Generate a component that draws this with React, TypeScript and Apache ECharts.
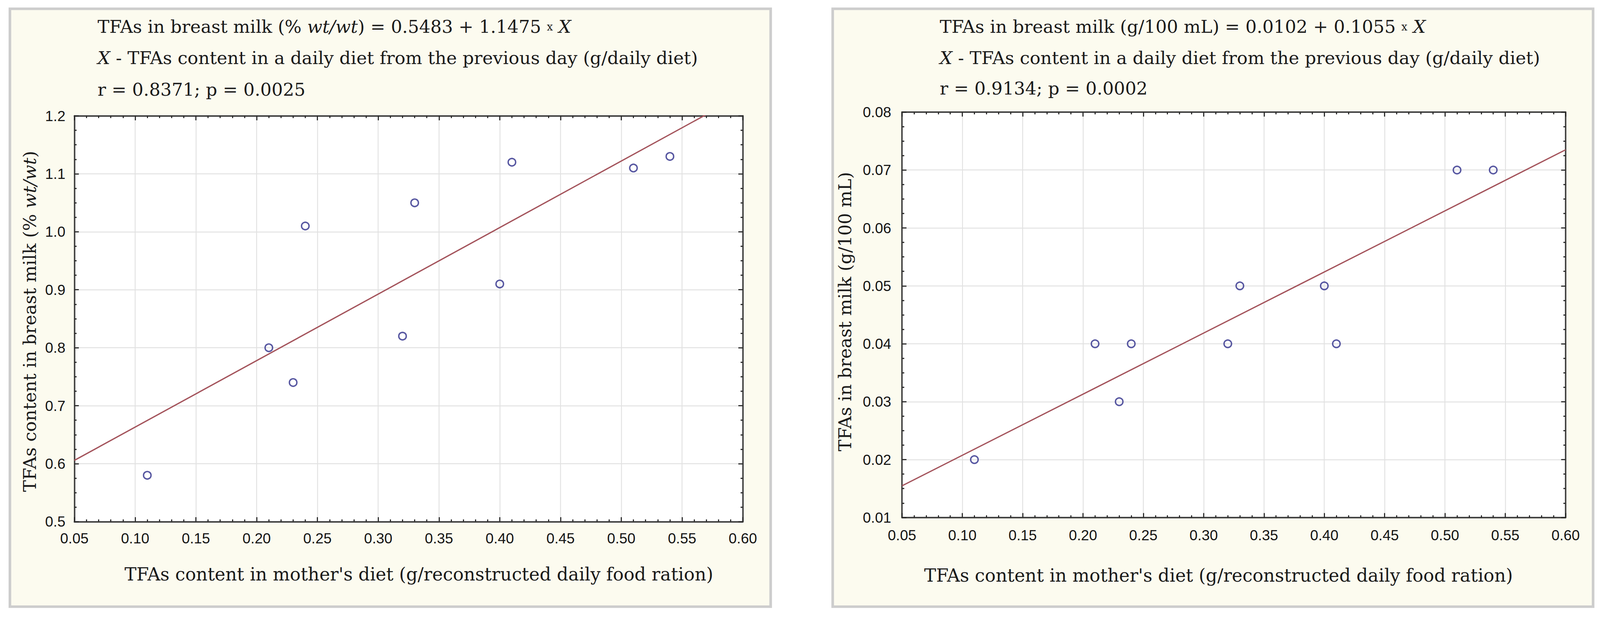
import React, { useEffect, useRef, useState } from "react";
import * as echarts from "echarts";

// ---- data ----
const dietTFA = [0.11, 0.21, 0.23, 0.24, 0.32, 0.33, 0.4, 0.41, 0.51, 0.54];
const milkPercent = [0.58, 0.8, 0.74, 1.01, 0.82, 1.05, 0.91, 1.12, 1.11, 1.13];
const milkGram = [0.02, 0.04, 0.03, 0.04, 0.04, 0.05, 0.05, 0.04, 0.07, 0.07];

const fitPercent = { intercept: 0.5483, slope: 1.1475, r: 0.8371, p: "0.0025" };
const fitGram = { intercept: 0.0102, slope: 0.1055, r: 0.9134, p: "0.0002" };

const xRange = { min: 0.05, max: 0.6, interval: 0.05, decimals: 2 };
const yPercentRange = { min: 0.5, max: 1.2, interval: 0.1, decimals: 1 };
const yGramRange = { min: 0.01, max: 0.08, interval: 0.01, decimals: 2 };

const xTitle = "TFAs content in mother's diet (g/reconstructed daily food ration)";
const yTitlePercent = "TFAs content in breast milk (% {i|wt/wt})";
const yTitleGram = "TFAs in breast milk (g/100 mL)";
const dietLine = "{i|X} - TFAs content in a daily diet from the previous day (g/daily diet)";

const BASE_W = 4282;
const BASE_H = 1646;

const SERIF = "DejaVu Serif";
const SANS = "Liberation Sans";
const INK = "#1a1a1a";

export default function App() {
  const ref = useRef<HTMLDivElement>(null);
  const [scale] = useState(() => {
    const w = window.innerWidth || BASE_W;
    const h = window.innerHeight || BASE_H;
    return Math.min(1, w / BASE_W, h / BASE_H);
  });

  useEffect(() => {
    document.body.style.margin = "0";
    document.body.style.overflow = "hidden";
    if (!ref.current) return;
    const s = scale;
    const S = (v: number) => v * s;
    const chart = echarts.init(ref.current, undefined, { renderer: "svg" });

    const richStyle = (size: number) => ({
      i: { fontStyle: "italic", fontFamily: SERIF, fontSize: S(size), fill: INK },
      s: { fontFamily: SERIF, fontSize: S(size * 0.6), fill: INK },
    });

    const textEl = (text: string, x: number, y: number, size: number, align = "left", rotation = 0) => ({
      type: "text",
      x: S(x),
      y: S(y),
      rotation,
      z: 20,
      style: {
        text,
        fontFamily: SERIF,
        fontSize: S(size),
        fill: INK,
        align,
        textAlign: align,
        verticalAlign: "middle",
        textVerticalAlign: "middle",
        rich: richStyle(size),
      },
    });

    const panel = (x: number, w: number) => [
      { type: "rect", z: -20, shape: { x: S(x), y: S(20), width: S(w), height: S(1607) }, style: { fill: "#cdcdcd" } },
      {
        type: "rect",
        z: -19,
        shape: { x: S(x + 7), y: S(27), width: S(w - 14), height: S(1593) },
        style: { fill: "#fcfbef" },
      },
    ];

    const axisCommon = (range: any, opts: any) => ({
      type: "value",
      min: range.min,
      max: range.max,
      interval: range.interval,
      axisLine: { show: true, onZero: false, lineStyle: { color: "#444", width: S(4) } },
      axisTick: { show: true, inside: true, length: S(12), lineStyle: { color: "#2a2a2a", width: S(3) } },
      minorTick: {
        show: true,
        splitNumber: opts.minorSplit,
        length: S(6),
        lineStyle: { color: "#2a2a2a", width: S(3) },
      },
      splitLine: { show: !!opts.split, lineStyle: { color: "#e2e2e2", width: S(2.5) } },
      axisLabel: {
        show: !!opts.label,
        margin: S(opts.margin ?? 25),
        fontFamily: SANS,
        fontSize: S(39),
        color: "#141414",
        formatter: (v: number) => v.toFixed(range.decimals),
      },
      gridIndex: opts.grid,
      position: opts.position,
    });

    const lineEnds = (fit: { intercept: number; slope: number }) =>
      [xRange.min, xRange.max].map((x) => [x, fit.intercept + fit.slope * x]);

    const scatterStyle = { color: "rgba(0,0,0,0)", borderColor: "#2d2d8a", borderWidth: S(3.8) };
    const fitStyle = { color: "#a3525a", width: S(3.4) };

    const option: any = {
      animation: false,
      backgroundColor: "#ffffff",
      grid: [
        { left: S(199), top: S(310), width: S(1789), height: S(1086), show: true, backgroundColor: "#ffffff", borderWidth: 0 },
        { left: S(2414), top: S(300), width: S(1776), height: S(1085), show: true, backgroundColor: "#ffffff", borderWidth: 0 },
      ],
      xAxis: [
        axisCommon(xRange, { grid: 0, position: "bottom", minorSplit: 5, split: true, label: true, margin: 25 }),
        axisCommon(xRange, { grid: 0, position: "top", minorSplit: 5 }),
        axisCommon(xRange, { grid: 1, position: "bottom", minorSplit: 5, split: true, label: true, margin: 28 }),
        axisCommon(xRange, { grid: 1, position: "top", minorSplit: 5 }),
      ],
      yAxis: [
        axisCommon(yPercentRange, { grid: 0, position: "left", minorSplit: 4, split: true, label: true, margin: 24 }),
        axisCommon(yPercentRange, { grid: 0, position: "right", minorSplit: 4 }),
        axisCommon(yGramRange, { grid: 1, position: "left", minorSplit: 4, split: true, label: true, margin: 29 }),
        axisCommon(yGramRange, { grid: 1, position: "right", minorSplit: 4 }),
      ],
      series: [
        {
          type: "line",
          xAxisIndex: 0,
          yAxisIndex: 0,
          data: lineEnds(fitPercent),
          showSymbol: false,
          symbol: "none",
          clip: true,
          lineStyle: fitStyle,
          z: 3,
        },
        {
          type: "scatter",
          xAxisIndex: 0,
          yAxisIndex: 0,
          data: dietTFA.map((x, i) => [x, milkPercent[i]]),
          symbol: "circle",
          symbolSize: S(20),
          itemStyle: scatterStyle,
          z: 4,
        },
        {
          type: "line",
          xAxisIndex: 2,
          yAxisIndex: 2,
          data: lineEnds(fitGram),
          showSymbol: false,
          symbol: "none",
          clip: true,
          lineStyle: fitStyle,
          z: 3,
        },
        {
          type: "scatter",
          xAxisIndex: 2,
          yAxisIndex: 2,
          data: dietTFA.map((x, i) => [x, milkGram[i]]),
          symbol: "circle",
          symbolSize: S(20),
          itemStyle: scatterStyle,
          z: 4,
        },
      ],
      graphic: {
        elements: [
          ...panel(23, 2043),
          ...panel(2225, 2042),
          textEl(
            `TFAs in breast milk (% {i|wt/wt}) = ${fitPercent.intercept} + ${fitPercent.slope} {s|x} {i|X}`,
            261, 72, 47.5
          ),
          textEl(dietLine, 261, 155, 47.5),
          textEl(`r = ${fitPercent.r}; p = ${fitPercent.p}`, 261, 240, 47.5),
          textEl(
            `TFAs in breast milk (g/100 mL) = ${fitGram.intercept} + ${fitGram.slope} {s|x} {i|X}`,
            2515, 72, 47.5
          ),
          textEl(dietLine, 2515, 155, 47.5),
          textEl(`r = ${fitGram.r}; p = ${fitGram.p}`, 2515, 237, 47.5),
          textEl(xTitle, 1121, 1537, 48, "center"),
          textEl(xTitle, 3261, 1540, 48, "center"),
          textEl(yTitlePercent, 80, 860, 47.5, "center", Math.PI / 2),
          textEl(yTitleGram, 2262, 834, 47.5, "center", Math.PI / 2),
        ],
      },
    };

    chart.setOption(option);
    return () => chart.dispose();
  }, [scale]);

  return (
    <div
      ref={ref}
      style={{ position: "absolute", left: 0, top: 0, width: BASE_W * scale, height: BASE_H * scale }}
    />
  );
}
